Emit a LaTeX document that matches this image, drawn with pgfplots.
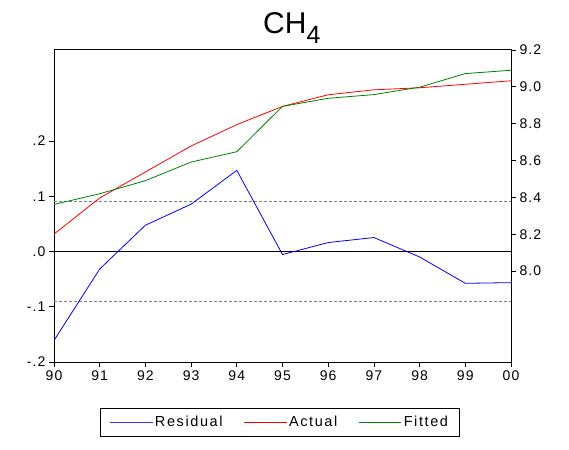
\documentclass[border=0pt]{standalone}
\usepackage{pgfplots}
\pgfplotsset{compat=1.18}
\usepackage{fontspec}
\setmainfont{Liberation Sans}
\begin{document}
\begin{tikzpicture}
\pgfplotsset{every axis/.append style={
  scale only axis, width=457pt, height=312pt, xmin=0, xmax=10,
  /pgf/number format/assume math mode=true,
  tick align=outside, major tick length=5pt,
  every tick/.style={black, line width=0.8pt},
  axis line style={line width=1pt},
  ticklabel style={font=\fontsize{14}{15}\selectfont\addfontfeature{LetterSpace=8}},
}}
\begin{axis}[
  ymin=-0.2, ymax=0.365,
  xtick={0,...,10}, xticklabels={90,91,92,93,94,95,96,97,98,99,00},
  xtick pos=bottom, ytick pos=left,
  ytick={-0.2,-0.1,0,0.1,0.2}, yticklabels={-.2,-.1,.0,.1,.2},
]
\addplot[gray, dash pattern=on 3pt off 2pt, line width=0.6pt, forget plot] coordinates {(0,0.0905) (10,0.0905)};
\addplot[gray, dash pattern=on 3pt off 2pt, line width=0.6pt, forget plot] coordinates {(0,-0.0905) (10,-0.0905)};
\addplot[black, line width=0.8pt, forget plot] coordinates {(0,0) (10,0)};
\addplot[blue, line width=0.8pt] coordinates {
(0,-0.161) (1,-0.0316) (2,0.0477) (3,0.0858) (4,0.147) (5,-0.0054)
(6,0.0163) (7,0.0254) (8,-0.0098) (9,-0.0575) (10,-0.0563)};
\end{axis}
\begin{axis}[
  ymin=7.507, ymax=9.2,
  axis x line=none, axis y line*=right,
  ytick={8.0,8.2,8.4,8.6,8.8,9.0,9.2},
  yticklabel style={/pgf/number format/.cd, fixed, fixed zerofill, precision=1},
  legend columns=3,
  legend style={at={(0.494,-0.192)}, anchor=center, draw=black, line width=0.8pt,
    font=\fontsize{14.5}{15}\selectfont\addfontfeature{LetterSpace=11},
    /tikz/every even column/.append style={column sep=19pt},
    inner xsep=9pt, inner ysep=6pt},
  legend image code/.code={\draw[#1, line width=0.8pt] (0cm,0cm) -- (1.5cm,0cm);},
]
\addlegendimage{blue!80, line width=0.8pt}
\addlegendentry{Residual}
\addplot[red, line width=0.8pt] coordinates {
(0,8.201) (1,8.397) (2,8.538) (3,8.679) (4,8.795) (5,8.894)
(6,8.957) (7,8.984) (8,8.995) (9,9.014) (10,9.033)};
\addlegendentry{Actual}
\addplot[green!50!black, line width=0.8pt] coordinates {
(0,8.362) (1,8.420) (2,8.491) (3,8.592) (4,8.648) (5,8.894)
(6,8.938) (7,8.958) (8,8.998) (9,9.072) (10,9.090)};
\addlegendentry{Fitted}
\end{axis}
\node[anchor=base west, inner sep=0pt, font=\fontsize{30}{31}\selectfont] at (209pt,328.5pt) {CH\raisebox{-10pt}{\fontsize{25}{26}\selectfont 4}};
\pgfresetboundingbox
\path[use as bounding box] (-54pt,-87pt) rectangle (515pt,362pt);
\end{tikzpicture}
\end{document}
